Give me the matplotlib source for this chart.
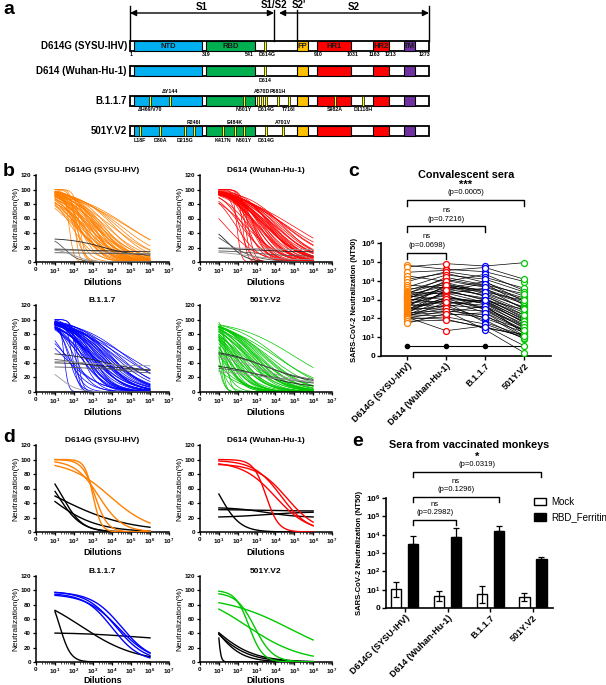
import numpy as np
import matplotlib
matplotlib.use("Agg")
import matplotlib.pyplot as plt
from matplotlib.patches import Rectangle, Patch
from matplotlib.ticker import LogLocator, NullFormatter

plt.rcParams['font.family'] = ['Liberation Sans', 'DejaVu Sans']
plt.rcParams['mathtext.fontset'] = 'custom'
plt.rcParams['mathtext.rm'] = 'Liberation Sans'
plt.rcParams['mathtext.it'] = 'Liberation Sans:italic'
plt.rcParams['mathtext.bf'] = 'Liberation Sans:bold'

# ======================= DATA =======================
variants = ["D614G (SYSU-IHV)", "D614 (Wuhan-Hu-1)", "B.1.1.7", "501Y.V2"]
variant_colors = ["#FF8000", "#FF0000", "#0000FF", "#00C800"]

# ---- panel a : schematic of spike (schematic units) ----
bar_start, bar_end = 130, 429
s1s2_site, s2prime_site, s2_arrow_start = 274, 297, 279
domain_names = ["NTD", "RBD", "FP", "HR1", "HR2", "TM"]
domain_start = [134, 206, 297, 317, 373, 404]
domain_end = [202, 255, 308, 351, 389, 415]
domain_colors = ["#00B0F0", "#00B050", "#FFC000", "#FF0000", "#FF0000", "#7030A0"]
aa_tick_labels = ["1", "319", "541", "D614G", "910", "1031", "1163", "1213", "1273"]
aa_tick_pos = [131, 206, 249, 267, 318, 353, 374, 391, 424]
row_y = [46, 71, 100.5, 131]
mutations = [
    [(265, None, None)],
    [(265, "D614", "below")],
    [(150, "\u0394H69/V70", "below"), (170, "\u0394Y144", "above"), (244, "N501Y", "below"),
     (258, None, None), (262, "A570D", "above"), (266, "D614G", "below"),
     (278, "P681H", "above"), (289, "T716I", "below"), (335, "S982A", "below"),
     (363, "D1118H", "below")],
    [(140, "L18F", "below"), (160, "D80A", "below"), (185, "D215G", "below"),
     (194, "R246I", "above"), (223, "K417N", "below"), (235, "E484K", "above"),
     (244, "N501Y", "below"), (266, "D614G", "below"), (283, "A701V", "above")],
]

# ---- panel c : NT50 of convalescent sera (one entry per donor) ----
nt50_d614g = [65000, 55000, 28000, 18000, 12000, 9000, 6000, 4500, 3500, 3000,
              2500, 2200, 2000, 1800, 1600, 1500, 1400, 1300, 1200, 1100,
              1000, 900, 800, 700, 650, 600, 550, 500, 450, 400,
              350, 320, 300, 280, 250, 230, 200, 180, 170, 160,
              150, 140, 130, 120, 115, 110, 100, 90, 70, 55]
nt50_d614 = [40000, 80000, 35000, 9000, 25000, 30000, 4000, 20000, 6000, 12000,
             2000, 8000, 15000, 5000, 3000, 1000, 7000, 2500, 4000, 600,
             10000, 1500, 3500, 800, 5000, 1800, 400, 2200, 700, 6000,
             300, 1200, 900, 2800, 500, 1300, 250, 3200, 450, 200,
             1100, 350, 150, 700, 22, 90, 250, 120, 80, 180]
nt50_b117 = [30000, 60000, 50000, 22000, 8000, 15000, 9000, 12000, 3000, 5000,
             4000, 2500, 6000, 1500, 7000, 800, 2000, 1200, 3500, 900,
             4500, 600, 1800, 400, 2500, 300, 1000, 700, 500, 1500,
             250, 800, 200, 1000, 350, 600, 150, 900, 100, 450,
             300, 80, 200, 60, 40, 30, 25, 50, 35, 120]
nt50_501y = [9000, 90000, 12000, 3000, 1500, 4000, 800, 2500, 600, 1200,
             300, 900, 2000, 150, 500, 60, 400, 100, 700, 80,
             1000, 40, 250, 30, 350, 20, 120, 60, 15, 200,
             25, 90, 12, 150, 40, 70, 10, 300, 18, 50,
             35, 8, 22, 12, 3.5, 14, 1.5, 9, 11, 25]
nt50_negative = 3.5
c_brackets = [(0, 1, "ns", "(p=0.0698)"), (0, 2, "ns", "(p=0.7216)"), (0, 3, "***", "(p=0.0005)")]

# ---- panel b : Hill slopes of fitted curves (per donor) ----
hill_b = [0.30, 0.28, 0.35, 0.40, 0.45, 0.35, 0.50, 0.40, 0.55, 0.45,
          0.60, 0.50, 0.40, 0.65, 0.45, 0.70, 0.50, 0.60, 0.45, 0.80,
          0.40, 0.70, 0.50, 0.90, 0.45, 0.60, 0.55, 0.50, 0.75, 0.40,
          1.00, 0.50, 0.65, 0.45, 0.80, 0.55, 3.00, 0.45, 0.90, 0.70,
          0.55, 2.50, 0.60, 1.20, 0.50, 4.00, 0.45, 1.50, 0.70, 3.50]
# negative-control curves: (top, bottom, log10 IC50, hill)
b_neg_d614g = [(33, 8, 3.5, 0.5), (36, 0, 1.5, 1.2), (19, 11, 3.0, 0.5),
               (17, 14, 3.5, 0.5), (13, 11, 3.0, 0.5), (18, 0, 2.0, 1.0)]
b_neg_d614 = [(52, 0, 1.5, 0.9), (60, 0, 1.2, 0.5), (20, 17, 3.0, 0.5),
              (19, 14, 3.0, 0.5), (16, 8, 3.0, 0.5), (15, 3, 2.5, 0.5)]
b_neg_b117 = [(55, 28, 3.5, 0.4), (48, 25, 3.0, 0.4), (43, 36, 3.0, 0.5),
              (41, 28, 4.0, 0.4), (35, 30, 3.0, 0.5), (40, 0, 1.2, 0.9)]
b_neg_501y = [(60, 10, 3.5, 0.35), (58, 12, 3.5, 0.35), (54, 8, 3.3, 0.35),
              (40, 5, 3.3, 0.35), (37, 8, 3.5, 0.30), (30, 14, 3.0, 0.4)]

# ---- panel d : monkey sera curves (top, bottom, log10 IC50, hill) ----
d_vacc_d614g = [(100, 0, 3.0, 2.0), (100, 0, 3.1, 1.3), (99, 0, 3.3, 0.7), (98, 0, 3.9, 0.4)]
d_mock_d614g = [(100, 0, 1.36, 0.8), (100, 0, 1.15, 0.7), (100, 0, 0.97, 0.23), (100, 0, 0.6, 0.35)]
d_vacc_d614 = [(100, 0, 3.5, 1.3), (99, 0, 4.3, 0.6), (97, 0, 4.0, 0.5), (94, 0, 4.6, 0.55)]
d_mock_d614 = [(100, 0, 1.05, 0.8), (34, 20, 3.5, 0.5), (31, 29, 3.0, 0.5), (20, 28, 3.5, 0.4)]
d_vacc_b117 = [(99, 0, 4.2, 0.55), (98, 0, 4.5, 0.55), (96, 0, 4.0, 0.6), (95, 0, 4.35, 0.5)]
d_mock_b117 = [(100, 0, 1.25, 1.5), (100, 0, 2.37, 0.3), (41, 30, 5.0, 0.3)]
d_vacc_501y = [(100, 0, 2.6, 1.2), (97, 0, 2.9, 0.9), (92, 0, 4.8, 0.25), (100, 0, 2.5, 0.3)]
d_mock_501y = [(100, 0, 0.6, 0.4), (100, 0, 0.7, 0.6), (100, 0, 0.95, 6.0), (100, 0, 0.55, 0.45)]

# ---- panel e : vaccinated monkeys NT50 (mean, error range) ----
mock_mean = [10.5, 4.7, 5.8, 3.8]
mock_low = [4.2, 2.5, 1.9, 2.5]
mock_high = [27, 8.8, 16.5, 6.9]
ferritin_mean = [3100, 7500, 15800, 470]
ferritin_high = [8500, 23000, 30000, 600]
e_brackets = [(0, 1, "ns", "(p=0.2982)"), (0, 2, "ns", "(p=0.1296)"), (0, 3, "*", "(p=0.0319)")]

dil_ticks = [1, 1e1, 1e2, 1e3, 1e4, 1e5, 1e6, 1e7]
dil_labels = ["0"] + [r"$\mathbf{10^{%d}}$" % k for k in range(1, 8)]
nt_ticks = [1, 1e1, 1e2, 1e3, 1e4, 1e5, 1e6]
nt_labels = ["0"] + [r"$\mathbf{10^{%d}}$" % k for k in range(1, 7)]

# ======================= FIGURE =======================
W, H = 606, 685
fig = plt.figure(figsize=(W / 100, H / 100), dpi=100)


def add_ax(x0, y0, x1, y1):
    return fig.add_axes([x0 / W, 1 - y1 / H, (x1 - x0) / W, (y1 - y0) / H])


def fourpl(x, top, bottom, logic50, hill):
    return bottom + (top - bottom) / (1 + 10 ** (hill * (np.log10(x) - logic50)))


def panel_letter(x, y, s):
    fig.text(x / W, 1 - y / H, s, fontsize=14, fontweight='bold', ha='left', va='center')


# ---------------- panel a ----------------
ax = add_ax(0, 0, 606, 160)
ax.set_xlim(0, 606)
ax.set_ylim(160, 0)
ax.axis('off')
bh = 10
for r, (label, y) in enumerate(zip(variants, row_y)):
    ax.add_patch(Rectangle((bar_start, y - bh / 2), bar_end - bar_start, bh, fc='white',
                           ec='black', lw=1.3, zorder=2))
    for s, e, c in zip(domain_start, domain_end, domain_colors):
        ax.add_patch(Rectangle((s, y - bh / 2), e - s, bh, fc=c, ec='black', lw=0.8, zorder=3))
    ax.text(bar_start - 3, y, label, ha='right', va='center', fontsize=7, fontweight='bold')
    for pos, lab, side in mutations[r]:
        ax.add_patch(Rectangle((pos - 1.4, y - bh / 2), 2.8, bh, fc='#FFFF00', ec='black',
                               lw=0.5, zorder=4))
        if lab:
            ax.text(pos, y - 9 if side == 'above' else y + 9, lab, ha='center', va='center',
                    fontsize=3.8, fontweight='bold')
for name, s, e in zip(domain_names, domain_start, domain_end):
    ax.text((s + e) / 2, row_y[0], name, ha='center', va='center', fontsize=5.5,
            fontweight='bold', color='#1a1a1a', zorder=5)
for lab, pos in zip(aa_tick_labels, aa_tick_pos):
    ax.text(pos, row_y[0] + 8.5, lab, ha='center', va='center', fontsize=3.8, fontweight='bold')
arrow_y = 13
akw = dict(arrowstyle='<|-|>', color='black', lw=1.0, mutation_scale=9, shrinkA=0, shrinkB=0)
ax.annotate('', xy=(s1s2_site, arrow_y), xytext=(bar_start, arrow_y), arrowprops=akw)
ax.annotate('', xy=(bar_end, arrow_y), xytext=(s2_arrow_start, arrow_y), arrowprops=akw)
top_bar = row_y[0] - bh / 2
for xv, y0 in [(bar_start, 6), (s1s2_site, 10), (s2prime_site, 10), (bar_end, 6)]:
    ax.plot([xv, xv], [y0, top_bar], color='black', lw=1.0)
ax.text((bar_start + s1s2_site) / 2, 7, "S1", ha='center', va='center', fontsize=7, fontweight='bold')
ax.text((s2_arrow_start + bar_end) / 2, 7, "S2", ha='center', va='center', fontsize=7, fontweight='bold')
ax.text(s1s2_site, 5, "S1/S2", ha='center', va='center', fontsize=7, fontweight='bold')
ax.text(s2prime_site + 2, 5, "S2'", ha='center', va='center', fontsize=7, fontweight='bold')
panel_letter(3, 10, "a")


# ---------------- panels b, d ----------------
def style_curve_ax(ax, title):
    ax.set_xscale('log')
    ax.set_xlim(1, 1e7)
    ax.set_ylim(0, 120)
    ax.set_yticks(range(0, 121, 20))
    ax.set_xticks(dil_ticks)
    ax.set_xticklabels(dil_labels)
    ax.xaxis.set_minor_locator(LogLocator(base=10, subs=np.arange(2, 10), numticks=20))
    ax.xaxis.set_minor_formatter(NullFormatter())
    for s in ['top', 'right']:
        ax.spines[s].set_visible(False)
    for s in ['left', 'bottom']:
        ax.spines[s].set_linewidth(1.1)
    ax.tick_params(which='major', direction='out', length=2.5, width=0.9, labelsize=4.5, pad=1)
    ax.tick_params(which='minor', direction='out', length=1.3, width=0.5)
    for lab in ax.get_yticklabels() + ax.get_xticklabels():
        lab.set_fontweight('bold')
    ax.set_xlabel('Dilutions', fontsize=6.5, fontweight='bold', labelpad=1)
    ax.set_ylabel('Neutralization(%)', fontsize=6, labelpad=1)
    ax.set_title(title, fontsize=6, fontweight='bold', pad=2.5)


xcurve = np.logspace(1, 6, 200)
nt50_all = [nt50_d614g, nt50_d614, nt50_b117, nt50_501y]
b_neg_all = [b_neg_d614g, b_neg_d614, b_neg_b117, b_neg_501y]
neg_grays = ['#222222', '#555555', '#999999']
b_boxes = [(36, 175, 169, 262), (200, 175, 332, 262), (36, 305, 169, 392), (200, 305, 332, 392)]
for k in range(4):
    ax = add_ax(*b_boxes[k])
    for nt, h in zip(nt50_all[k], hill_b):
        ax.plot(xcurve, fourpl(xcurve, 100, 0, np.log10(nt), h), color=variant_colors[k],
                lw=0.5, zorder=2)
    for j, p in enumerate(b_neg_all[k]):
        ax.plot(xcurve, fourpl(xcurve, *p), color=neg_grays[j % 3], lw=0.6, zorder=3)
    style_curve_ax(ax, variants[k])
panel_letter(3, 172, "b")

d_vacc_all = [d_vacc_d614g, d_vacc_d614, d_vacc_b117, d_vacc_501y]
d_mock_all = [d_mock_d614g, d_mock_d614, d_mock_b117, d_mock_501y]
d_boxes = [(36, 445, 169, 532), (200, 445, 332, 532), (36, 576, 169, 662), (200, 576, 332, 662)]
for k in range(4):
    ax = add_ax(*d_boxes[k])
    for p in d_mock_all[k]:
        ax.plot(xcurve, fourpl(xcurve, *p), color='black', lw=1.0, zorder=2)
    for p in d_vacc_all[k]:
        ax.plot(xcurve, fourpl(xcurve, *p), color=variant_colors[k], lw=1.0, zorder=3)
    style_curve_ax(ax, variants[k])
    if k >= 2:
        ax.xaxis.labelpad = 0
panel_letter(3, 437, "d")


# ---------------- shared styling for c, e ----------------
def style_nt_ax(ax):
    ax.set_yscale('log')
    ax.set_ylim(1, 1e6)
    ax.set_yticks(nt_ticks)
    ax.set_yticklabels(nt_labels)
    ax.yaxis.set_minor_locator(plt.NullLocator())
    for s in ['top', 'right']:
        ax.spines[s].set_visible(False)
    for s in ['left', 'bottom']:
        ax.spines[s].set_linewidth(1.2)
    ax.tick_params(which='major', direction='out', length=3, width=1.0, labelsize=6, pad=1)
    for lab in ax.get_yticklabels():
        lab.set_fontweight('bold')
    ax.set_xticks(range(4))
    ax.set_xticklabels(variants, rotation=45, ha='right', rotation_mode='anchor',
                       fontsize=6.5, fontweight='bold')
    ax.set_ylabel('SARS-CoV-2 Neutralization (NT50)', fontsize=5.5, fontweight='bold', labelpad=2)


def draw_brackets(ax, brackets, xpos, levels, drop, gap1, gap2, starsize):
    tr = ax.get_xaxis_transform()
    for (i, j, sig, ptxt), lev in zip(brackets, levels):
        x0, x1 = xpos[i], xpos[j]
        ax.plot([x0, x0, x1, x1], [lev - drop, lev, lev, lev - drop], color='black', lw=1.0,
                transform=tr, clip_on=False)
        ax.text((x0 + x1) / 2, lev + gap1, ptxt, transform=tr, ha='center', va='center', fontsize=5.5)
        if sig == 'ns':
            ax.text((x0 + x1) / 2, lev + gap2, sig, transform=tr, ha='center', va='center', fontsize=5.5)
        else:
            ax.text((x0 + x1) / 2, lev + gap2 - 0.01, sig, transform=tr, ha='center', va='center',
                    fontsize=starsize, fontweight='bold')


# ---------------- panel c ----------------
ax = add_ax(381, 243, 551, 356)
style_nt_ax(ax)
ax.set_xlim(-0.67, 3.69)
xs = np.arange(4)
for vals in zip(*nt50_all):
    ax.plot(xs, vals, color='black', lw=0.5, zorder=2)
ax.plot(xs, [nt50_negative] * 4, color='black', lw=0.8, zorder=2)
ax.plot(xs[:3], [nt50_negative] * 3, 'o', color='black', ms=3, zorder=4)
for k in range(4):
    ax.plot(np.full(len(nt50_all[k]), k), nt50_all[k], 'o', mfc='white', mec=variant_colors[k],
            ms=4.3, mew=0.9, zorder=3)
ax.set_title('Convalescent sera', fontsize=7.8, fontweight='bold', pad=47)
draw_brackets(ax, c_brackets, xs, [0.912, 1.150, 1.381], 0.053, 0.062, 0.142, 8)
panel_letter(348, 172, "c")

# ---------------- panel e ----------------
ax = add_ax(386, 498, 553, 608)
style_nt_ax(ax)
ax.set_xlim(-0.44, 3.47)
gx = np.arange(4)
off, bw = 0.2, 0.24
mm = np.array(mock_mean)
fm = np.array(ferritin_mean)
ax.bar(gx - off, mm - 1, bottom=1, width=bw, color='white', edgecolor='black', lw=1.0, zorder=2)
ax.errorbar(gx - off, mm, yerr=[mm - np.array(mock_low), np.array(mock_high) - mm], fmt='none',
            ecolor='black', elinewidth=0.9, capsize=2, capthick=0.9, zorder=3)
ax.bar(gx + off, fm - 1, bottom=1, width=bw, color='black', edgecolor='black', lw=1.0, zorder=2)
ax.errorbar(gx + off, fm, yerr=[np.zeros(4), np.array(ferritin_high) - fm], fmt='none',
            ecolor='black', elinewidth=0.9, capsize=2, capthick=0.9, zorder=3)
ax.set_title('Sera from vaccinated monkeys', fontsize=7.8, fontweight='bold', pad=36)
draw_brackets(ax, e_brackets, gx + off, [0.80, 1.009, 1.236], 0.045, 0.064, 0.145, 8)
handles = [Patch(facecolor='white', edgecolor='black', lw=1.0), Patch(facecolor='black', edgecolor='black')]
fig.legend(handles, ['Mock', 'RBD_Ferritin'], loc='upper left', bbox_to_anchor=(534 / W, 1 - 497 / H),
           frameon=False, fontsize=7, handlelength=1.2, handleheight=0.8, borderaxespad=0,
           borderpad=0, labelspacing=0.55, handletextpad=0.6)
panel_letter(352, 441, "e")

fig.savefig('out.png', dpi=100)
